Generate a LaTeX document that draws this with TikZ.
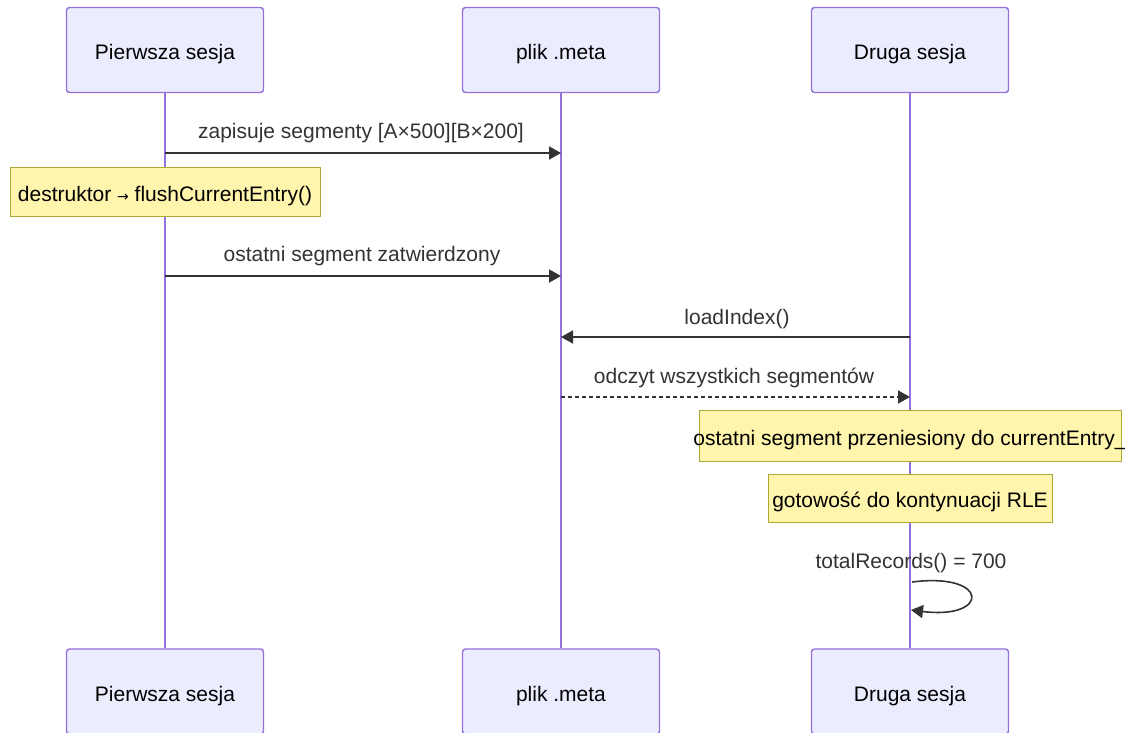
\documentclass[tikz,border=0pt]{standalone}
\usepackage{fontspec}
\setmainfont{Liberation Sans}
\newfontfamily\arrowfont{DejaVu Sans}
\usetikzlibrary{arrows.meta}
\definecolor{actfill}{HTML}{ECECFF}
\definecolor{actline}{HTML}{9370DB}
\definecolor{notefill}{HTML}{FFF5AD}
\definecolor{noteline}{HTML}{AAAA33}
\definecolor{ink}{HTML}{333333}
\begin{document}
\begin{tikzpicture}[x=1pt,y=-1pt,
  txt/.style={font=\fontsize{21}{25}\selectfont},
  boxtext/.style={txt, text height=20pt, text depth=1pt, inner sep=0pt, text=black},
  actor/.style={boxtext, draw=actline, fill=actfill, line width=1.4pt, rounded corners=3pt,
    minimum width=197pt, minimum height=85pt},
  note/.style={boxtext, draw=noteline, fill=notefill, line width=1pt},
  lifeline/.style={draw=actline, line width=1.8pt},
  msg/.style={draw=ink, line width=1.8pt, -{Triangle[length=12pt,width=13pt]}},
  reply/.style={msg, dash pattern=on 4pt off 3pt},
  lbl/.style={txt, text=ink, inner sep=0pt}]
\useasboundingbox (0,0) rectangle (1125,732);
\fill[white] (0,0) rectangle (1125,732);

% participants, top and bottom
\node[actor] (p1t) at (165,50) {Pierwsza sesja};
\node[actor] (p2t) at (561,50) {plik .meta};
\node[actor] (p3t) at (910,50) {Druga sesja};
\node[actor] (p1b) at (165,691.5) {Pierwsza sesja};
\node[actor] (p2b) at (561,691.5) {plik .meta};
\node[actor] (p3b) at (910,691.5) {Druga sesja};

% lifelines
\draw[lifeline] (p1t.south) -- (p1b.north);
\draw[lifeline] (p2t.south) -- (p2b.north);
\draw[lifeline] (p3t.south) -- (p3b.north);

% message anchor points on the lifelines
\coordinate (a1) at (165,153);  \coordinate (b1) at (561,153);
\coordinate (a2) at (165,276);  \coordinate (b2) at (561,276);
\coordinate (a3) at (910,337);  \coordinate (b3) at (561,337);
\coordinate (a4) at (561,397);  \coordinate (b4) at (910,397);
\coordinate (s0) at (912,582);  \coordinate (s1) at (911,610);

% messages
\draw[msg] (a1) -- (b1);
\node[lbl] (l1) at (361,133) {zapisuje segmenty [A×500][B×200]};

\node[note, minimum width=310pt, minimum height=49pt] (n1) at (165,191.5)
  {destruktor {\arrowfont\fontsize{14}{16}\selectfont →} flushCurrentEntry()};

\draw[msg] (a2) -- (b2);
\node[lbl] (l2) at (362,256) {ostatni segment zatwierdzony};

\draw[msg] (a3) -- (b3);
\node[lbl] (l3) at (737,319) {loadIndex()};

\draw[reply] (a4) -- (b4);
\node[lbl] (l4) at (734,378) {odczyt wszystkich segmentów};

% the first note's text runs slightly past its box
\node[note, minimum width=422pt, minimum height=51pt] (n2) at (910,435.5)
  {\makebox[400pt][c]{ostatni segment przeniesiony do currentEntry\_}};
\node[note, minimum width=284pt, minimum height=48pt] (n3) at (910,498)
  {gotowość do kontynuacji RLE};

% self call
\node[lbl] (l5) at (911,563) {totalRecords() = 700};
\draw[msg, line width=1.6pt] (s0) .. controls (990,572) and (990,620) .. (s1);
\end{tikzpicture}
\end{document}
